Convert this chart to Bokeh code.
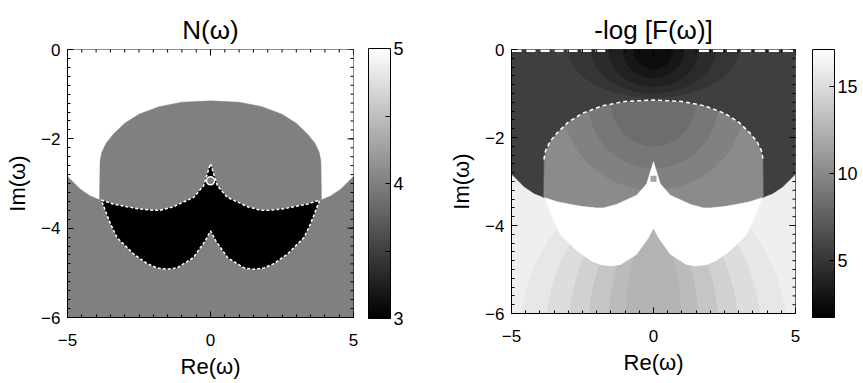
import numpy as np
from bokeh.plotting import figure
from bokeh.layouts import row
from bokeh.models import (ColorBar, LinearColorMapper, FixedTicker, Range1d, ColumnDataSource)
from bokeh.palettes import Greys256
from bokeh.embed import file_html
from bokeh.resources import INLINE

# ---------------- data ----------------
x_major = [-5, 0, 5]
y_major = [-6, -4, -2, 0]
x_minor_step = 0.5
y_minor_step = 0.2

# boundary between the upper region and the lower region, outside the lobes (left half)
outer_x = [-5.0, -4.55, -4.2, -3.86]
outer_y = [-2.83, -3.12, -3.27, -3.36]

# upper lobe outline, from top centre to left side (left half)
blob_top_x = [0.0, -1.0, -1.8, -2.5, -3.0, -3.4, -3.65, -3.8, -3.86, -3.88]
blob_top_y = [-1.15, -1.18, -1.28, -1.45, -1.65, -1.9, -2.1, -2.3, -2.5, -3.36]

# lower lobes: upper arc from outer corner to central cusp (left half)
bowl_top_x = [-3.82, -3.4, -2.92, -2.5, -2.0, -1.76, -1.3, -0.59, -0.24, 0.0]
bowl_top_y = [-3.37, -3.46, -3.52, -3.57, -3.6, -3.6, -3.52, -3.31, -3.05, -2.55]
# lower lobes: lower arc from outer corner to central cusp (left half)
bowl_bot_x = [-3.82, -3.5, -3.27, -2.69, -2.2, -1.87, -1.5, -1.17, -0.6, -0.19, 0.0]
bowl_bot_y = [-3.37, -3.9, -4.21, -4.58, -4.8, -4.89, -4.92, -4.89, -4.66, -4.29, -4.06]

# small spot in the cusp
spot_x = [0.0]
spot_y = [-2.94]

# N(omega) region values
N_lower, N_upper, N_blob, N_bowl = 4, 5, 4, 3
N_low, N_high = 3, 5
N_ticks = [3, 4, 5]
N_minor = [3.5, 4.5]

# -log F(omega) region values and shading layers
F_lower, F_upper, F_blob, F_bowl, F_spot = 16.1, 5.5, 10.1, 17.1, 11.5
F_low, F_high = 1.7, 17.1
F_ticks = [5, 10, 15]
# darker shading around the top centre (ellipses centred at (0, 0))
dark_w = [6.0, 4.4, 3.2, 2.2, 1.4]
dark_h = [2.2, 2.0, 1.7, 1.3, 0.9]
dark_v = [4.9, 4.3, 3.7, 3.1, 2.5]
# darker shading inside the upper lobe (ellipses centred at (0, -1.2))
lobe_w = [6.4, 4.6, 3.0]
lobe_h = [4.0, 3.0, 2.0]
lobe_v = [9.5, 8.9, 8.3]
# darker shading at the bottom centre (ellipses centred at (0, -6.5))
low_w = [9.4, 7.6, 6.0, 4.6, 3.2, 2.0]
low_h = [7.0, 6.6, 6.2, 5.8, 5.4, 5.0]
low_v = [15.6, 15.0, 14.3, 13.6, 13.0, 12.5]
# white dashed segments on the top edge of the right panel
top_dash_x = [[-5.0, -1.7], [1.6, 5.0]]
top_dash_y = [[-0.03, -0.03], [-0.03, -0.03]]

FONT = "Liberation Sans"


def mirror(xs, ys):
    """left-half path + its mirror image (right half), traversed continuously"""
    return list(xs) + [-x for x in reversed(xs)], list(ys) + list(reversed(ys))


def regions():
    up_x, up_y = mirror(outer_x, outer_y)
    up_x = [-5.0] + up_x + [5.0]
    up_y = [0.0] + up_y + [0.0]
    bl_x, bl_y = mirror(blob_top_x + bowl_top_x, blob_top_y + bowl_top_y)
    bt_x = bowl_top_x + [-x for x in reversed(bowl_top_x)] + [-x for x in bowl_bot_x] + list(reversed(bowl_bot_x))
    bt_y = bowl_top_y + list(reversed(bowl_top_y)) + list(bowl_bot_y) + list(reversed(bowl_bot_y))
    # upper region without the upper lobe
    lob_x = list(reversed(blob_top_x)) + [-x for x in blob_top_x[1:]]
    lob_y = list(reversed(blob_top_y)) + list(blob_top_y[1:])
    uo_x = [-5.0] + outer_x + lob_x + [-x for x in reversed(outer_x)] + [5.0]
    uo_y = [0.0] + outer_y + lob_y + list(reversed(outer_y)) + [0.0]
    return (up_x, up_y), (bl_x, bl_y), (bt_x, bt_y), (uo_x, uo_y)


def base_fig(title, fw, fh, left, right, top, bottom):
    p = figure(frame_width=fw, frame_height=fh, x_range=Range1d(-5, 5), y_range=Range1d(-6, 0),
               output_backend="svg", toolbar_location=None, title=title,
               min_border_left=left, min_border_right=right,
               min_border_top=top, min_border_bottom=bottom,
               background_fill_color="white", border_fill_color="white")
    p.title.align = "center"
    p.title.text_font = FONT
    p.title.text_font_size = "26px"
    p.title.text_font_style = "normal"
    p.title.text_color = "black"
    p.grid.visible = False
    p.outline_line_color = "black"
    p.xaxis.axis_label = "Re(ω)"
    p.yaxis.axis_label = "Im(ω)"
    xminor = list(np.arange(x_major[0], x_major[-1] + 1e-9, x_minor_step))
    yminor = list(np.arange(y_major[0], y_major[-1] + 1e-9, y_minor_step))
    p.xaxis.ticker = FixedTicker(ticks=x_major, minor_ticks=xminor)
    p.yaxis.ticker = FixedTicker(ticks=y_major, minor_ticks=yminor)
    for ax in p.axis:
        ax.major_tick_in = 6
        ax.major_tick_out = 0
        ax.minor_tick_in = 3
        ax.minor_tick_out = 0
        ax.axis_line_color = "black"
        ax.major_tick_line_color = "black"
        ax.minor_tick_line_color = "black"
        ax.major_label_text_font = FONT
        ax.major_label_text_font_size = "17px"
        ax.major_label_text_color = "black"
        ax.axis_label_text_font = FONT
        ax.axis_label_text_font_size = "22px"
        ax.axis_label_text_font_style = "normal"
        ax.axis_label_text_color = "black"
    p.xaxis.major_label_standoff = 16
    p.xaxis.axis_label_standoff = 5
    p.yaxis.major_label_standoff = 7
    p.yaxis.axis_label_standoff = 8
    return p, xminor, yminor


def mirror_ticks(p, xminor, yminor):
    """tick marks on the top and right edges (pointing inwards)"""
    p.scatter(x_major, [0] * len(x_major), marker="dash", angle=np.pi / 2, size=12,
              line_color="black", line_width=1)
    p.scatter(xminor, [0] * len(xminor), marker="dash", angle=np.pi / 2, size=6,
              line_color="black", line_width=1)
    p.scatter([5] * len(y_major), y_major, marker="dash", size=12, line_color="black", line_width=1)
    p.scatter([5] * len(yminor), yminor, marker="dash", size=6, line_color="black", line_width=1)


def add_colorbar(p, mapper, ticks, minor, height, xoff, yoff):
    cb = ColorBar(color_mapper=mapper, ticker=FixedTicker(ticks=ticks, minor_ticks=minor),
                  width=22, height=height, padding=0, margin=0, location=(xoff, yoff),
                  bar_line_color="black", major_tick_line_color="black",
                  major_tick_in=5, major_tick_out=0, minor_tick_line_color="black",
                  minor_tick_in=5, minor_tick_out=0,
                  major_label_text_font=FONT, major_label_text_font_size="18px",
                  major_label_text_color="black",
                  label_standoff=3, background_fill_color=None, border_line_color=None)
    p.add_layout(cb, "center")


def shaded(p, mapper, xs, ys, v):
    src = ColumnDataSource(dict(xs=xs, ys=ys, v=v))
    p.patches("xs", "ys", source=src, fill_color={"field": "v", "transform": mapper},
              line_color={"field": "v", "transform": mapper}, line_width=0.5)


def rings(p, mapper, cx, cy, w, h, v):
    src = ColumnDataSource(dict(x=[cx] * len(w), y=[cy] * len(w), w=w, h=h, v=v))
    p.ellipse("x", "y", width="w", height="h", source=src,
              fill_color={"field": "v", "transform": mapper}, line_color=None)


(up_x, up_y), (bl_x, bl_y), (bt_x, bt_y), (uo_x, uo_y) = regions()

# ---------------- left panel: N(omega) ----------------
mapN = LinearColorMapper(palette=Greys256, low=N_low, high=N_high)
p1, xm, ym = base_fig("N(ω)", 286, 268, 67, 65, 49, 66)
shaded(p1, mapN, [[-5, 5, 5, -5], up_x, bl_x, bt_x], [[0, 0, -6, -6], up_y, bl_y, bt_y],
       [N_lower, N_upper, N_blob, N_bowl])
# white dotted outline of the lower lobes
p1.line(bt_x + [bt_x[0]], bt_y + [bt_y[0]], line_color="white", line_width=1.5, line_dash="3 2")
p1.scatter(spot_x, spot_y, size=8, marker="circle", fill_color="#808080",
           line_color="white", line_width=1.5)
mirror_ticks(p1, xm, ym)
add_colorbar(p1, mapN, N_ticks, N_minor, 270, 301, -1)

# ---------------- right panel: -log F(omega) ----------------
mapF = LinearColorMapper(palette=Greys256, low=F_low, high=F_high)
p2, xm2, ym2 = base_fig("-log [F(ω)]", 284, 264, 93, 63, 49, 70)
shaded(p2, mapF, [[-5, 5, 5, -5]], [[0, 0, -6, -6]], [F_lower])
rings(p2, mapF, 0, -6.5, low_w, low_h, low_v)
shaded(p2, mapF, [bl_x], [bl_y], [F_blob])
rings(p2, mapF, 0, -1.2, lobe_w, lobe_h, lobe_v)
shaded(p2, mapF, [uo_x], [uo_y], [F_upper])
rings(p2, mapF, 0, 0, dark_w, dark_h, dark_v)
shaded(p2, mapF, [bt_x], [bt_y], [F_bowl])
# white dashed outline on the top of the upper lobe and along the top edge
ox = list(reversed(blob_top_x[:-1])) + [-x for x in blob_top_x[1:-1]]
oy = list(reversed(blob_top_y[:-1])) + list(blob_top_y[1:-1])
p2.line(ox, oy, line_color="white", line_width=1.5, line_dash="4 3")
p2.multi_line(top_dash_x, top_dash_y, line_color="white", line_width=2.5, line_dash="10 4")
srcSpot = ColumnDataSource(dict(x=spot_x, y=spot_y, v=[F_spot]))
p2.scatter("x", "y", source=srcSpot, size=6, marker="square",
           fill_color={"field": "v", "transform": mapF}, line_color=None)
mirror_ticks(p2, xm2, ym2)
add_colorbar(p2, mapF, F_ticks, [], 268, 301, -4)

layout = row(p1, p2)
open("out.html", "w").write(file_html(layout, INLINE))
